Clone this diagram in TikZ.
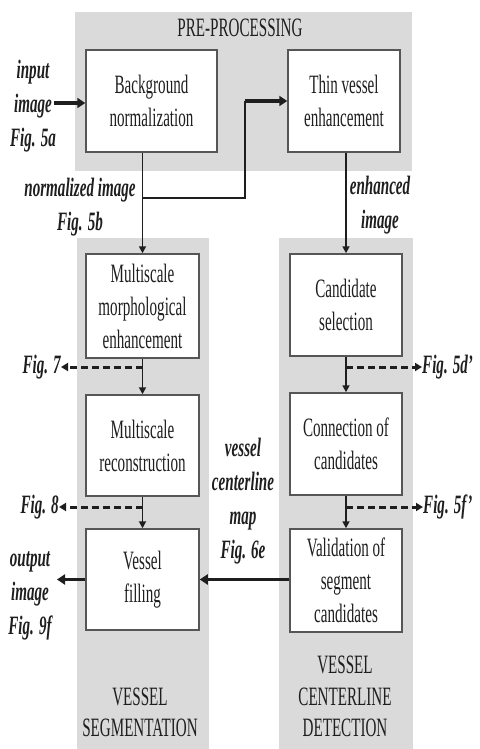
\documentclass[tikz,border=0pt]{standalone}
\usepackage{fontspec}
\setmainfont{Liberation Serif}[FakeStretch=0.57]
\usetikzlibrary{arrows.meta}
\definecolor{panelgray}{HTML}{DADADA}
\definecolor{ink}{HTML}{1E1E1E}
\begin{document}
\begin{tikzpicture}[x=1pt,y=-1pt,
  panel/.style={fill=panelgray,draw=none,inner sep=0pt},
  proc/.style={fill=white,draw=ink!75,line width=1.5pt,inner sep=0pt,align=center,text=ink,
    font=\fontsize{26.5}{33}\selectfont},
  lab/.style={align=center,text=ink,inner sep=0pt,font=\fontsize{26.5}{34}\selectfont\bfseries\itshape},
  ttl/.style={align=center,text=ink,inner sep=0pt,font=\fontsize{26.5}{31.5}\selectfont},
  conn/.style={draw=ink,line width=1.8pt,-{Triangle[length=7pt,width=7pt]}},
  plain/.style={draw=ink,line width=1.8pt},
  bigconn/.style={draw=ink,line width=3.2pt,-{Triangle[length=8pt,width=10pt]}},
  dashconn/.style={draw=ink,line width=3pt,dash pattern=on 7pt off 4pt,-{Triangle[length=7pt,width=8pt]}}]
\useasboundingbox (0,0) rectangle (479,749);
% panels
\node[panel,minimum width=337pt,minimum height=159pt] (pre) at (243.5,91.5) {};
\node[panel,minimum width=132pt,minimum height=511pt] (seg) at (143,493.5) {};
\node[panel,minimum width=134pt,minimum height=511pt] (cen) at (346,493.5) {};
% panel titles
\node[ttl] (tpre) at (240,28) {PRE-PROCESSING};
\node[ttl] (tseg) at (140,712.5) {VESSEL\\SEGMENTATION};
\node[ttl] (tcen) at (345,696.5) {VESSEL\\CENTERLINE\\DETECTION};
% process boxes
\node[proc,minimum width=131pt,minimum height=102pt] (bg) at (151.5,101) {Background\\normalization};
\node[proc,minimum width=112pt,minimum height=102pt] (tv) at (344,101) {Thin vessel\\enhancement};
\node[proc,minimum width=113pt,minimum height=104pt] (mm) at (142.5,306) {Multiscale\\morphological\\enhancement};
\node[proc,minimum width=112pt,minimum height=102pt] (cs) at (346,305) {Candidate\\selection};
\node[proc,minimum width=113pt,minimum height=101pt] (mr) at (142.5,445.5) {Multiscale\\reconstruction};
\node[proc,minimum width=112pt,minimum height=102pt] (cc) at (346,444) {Connection of\\candidates};
\node[proc,minimum width=113pt,minimum height=101pt] (vf) at (142.5,579.5) {Vessel\\filling};
\node[proc,minimum width=112pt,minimum height=103pt] (vs) at (346,580.5) {Validation of\\segment\\candidates};
% labels
\node[lab] (lin) at (33,106) {input\\image\\Fig. 5a};
\node[lab] (lnorm) at (80,207.5) {normalized image\\Fig. 5b};
\node[lab] (lenh) at (380,205) {enhanced\\image};
\node[lab] (lcen) at (243,501) {vessel\\centerline\\map\\Fig. 6e};
\node[lab] (lout) at (30,596) {output\\image\\Fig. 9f};
\node[lab,anchor=east] (f7) at (61,367) {Fig. 7};
\node[lab,anchor=west] (f5d) at (422,367) {Fig. 5d'};
\node[lab,anchor=east] (f8) at (59,507) {Fig. 8};
\node[lab,anchor=west] (f5f) at (423,507) {Fig. 5f'};
% coordinates
\coordinate (inst) at (54,103);
\coordinate (br) at (142.5,198);
\coordinate (bend) at (245,198);
\coordinate (outend) at (57,579.5);
% connectors
\draw[bigconn] (inst) -- (inst -| bg.west);
\draw[conn] (mm.north |- bg.south) -- (mm.north);
\draw[plain] (br) -- (bend) -- (bend |- tv.west);
\draw[bigconn] (bend |- tv.west) -- (tv.west);
\draw[conn] (cs.north |- tv.south) -- (cs.north);
\draw[conn] (mm.south) -- (mr.north);
\draw[conn] (cs.south) -- (cc.north);
\draw[conn] (mr.south) -- (vf.north);
\draw[conn] (cc.south) -- (vs.north);
\draw[dashconn] (mm.south |- f7) -- (f7.east);
\draw[dashconn] (cs.south |- f5d) -- (f5d.west);
\draw[dashconn] (mr.south |- f8) -- (f8.east);
\draw[dashconn] (cc.south |- f5f) -- (f5f.west);
\draw[bigconn] (vs.west |- vf.east) -- (vf.east);
\draw[bigconn] (vf.west) -- (outend);
\end{tikzpicture}
\end{document}
